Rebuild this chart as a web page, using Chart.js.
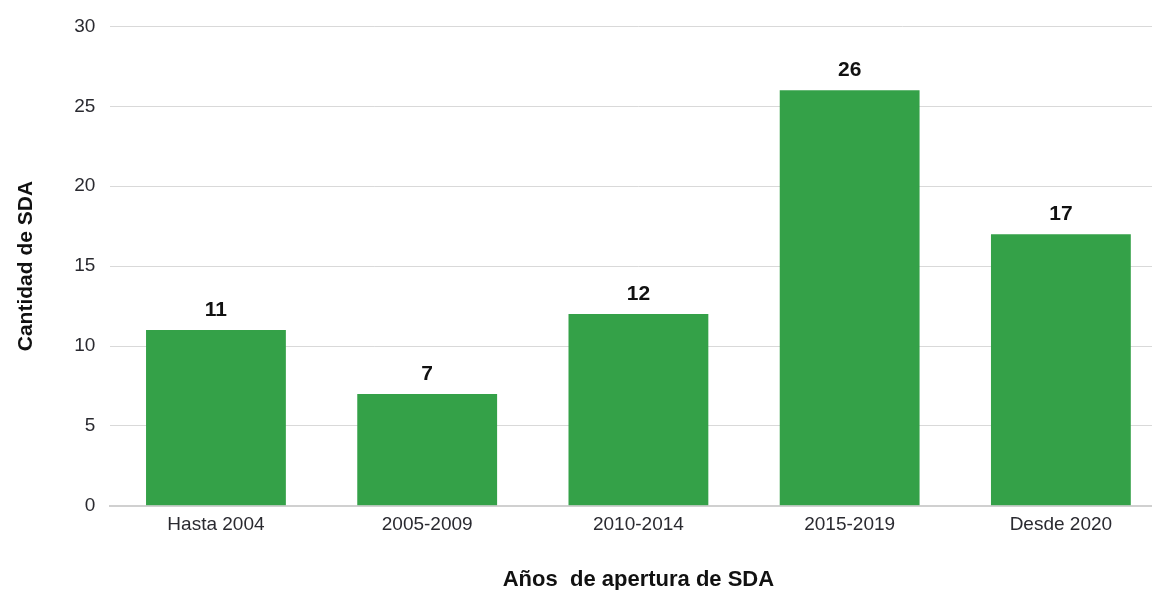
<!DOCTYPE html>
<html>
<head>
<meta charset="utf-8">
<script src="https://cdn.jsdelivr.net/npm/chart.js@4"></script>
<style>
  html, body { margin: 0; padding: 0; overflow: hidden; background: #fff; }
  #wrap { width: 1170px; height: 593px; }
</style>
</head>
<body>
<div id="wrap"><canvas id="myChart" width="1170" height="593"></canvas></div>
<script>
const categories = ['Hasta 2004', '2005-2009', '2010-2014', '2015-2019', 'Desde 2020'];
const sdaCounts = [11, 7, 12, 26, 17];
const yTicks = [0, 5, 10, 15, 20, 25, 30];

const fontFamily = '"Liberation Sans", Arial, sans-serif';

// value labels above each bar
const barLabels = {
    id: 'barLabels',
    afterDatasetsDraw(chart) {
        const ctx = chart.ctx;
        const meta = chart.getDatasetMeta(0);
        ctx.save();
        ctx.font = 'bold 21px ' + fontFamily;
        ctx.fillStyle = '#111';
        ctx.textAlign = 'center';
        ctx.textBaseline = 'alphabetic';
        meta.data.forEach((bar, i) => {
            ctx.fillText(sdaCounts[i], bar.x, bar.y - 14);
        });
        ctx.restore();
    }
};

document.addEventListener('DOMContentLoaded', function () {
    const ctx = document.getElementById('myChart').getContext('2d');
    new Chart(ctx, {
        type: 'bar',
        data: {
            labels: categories,
            datasets: [{
                data: sdaCounts,
                backgroundColor: '#34a148',
                barPercentage: 0.662,
                categoryPercentage: 1.0
            }]
        },
        options: {
            responsive: false,
            animation: false,
            layout: { padding: { top: 19, right: 3.5, bottom: 0, left: 0 } },
            plugins: {
                legend: { display: false },
                tooltip: { enabled: false }
            },
            scales: {
                x: {
                    grid: { display: false, drawTicks: false },
                    border: { display: true, color: '#d0d0d0', width: 2 },
                    ticks: {
                        color: '#2a2a30',
                        font: { family: fontFamily, size: 19 },
                        padding: 8
                    },
                    title: {
                        display: true,
                        text: 'Años  de apertura de SDA',
                        color: '#111',
                        font: { family: fontFamily, size: 22, weight: 'bold' },
                        padding: { top: 22, bottom: 0 }
                    }
                },
                y: {
                    min: 0,
                    max: 30,
                    afterBuildTicks: function (axis) {
                        axis.ticks = yTicks.map(v => ({ value: v }));
                    },
                    grid: { color: '#d9d9d9', drawTicks: false },
                    border: { display: false },
                    ticks: {
                        color: '#2a2a30',
                        font: { family: fontFamily, size: 19 },
                        padding: 15
                    },
                    title: {
                        display: true,
                        text: 'Cantidad de SDA',
                        color: '#111',
                        font: { family: fontFamily, size: 21, weight: 'bold' },
                        padding: { top: 14, bottom: 20 }
                    }
                }
            }
        },
        plugins: [barLabels]
    });
});
</script>
</body>
</html>
